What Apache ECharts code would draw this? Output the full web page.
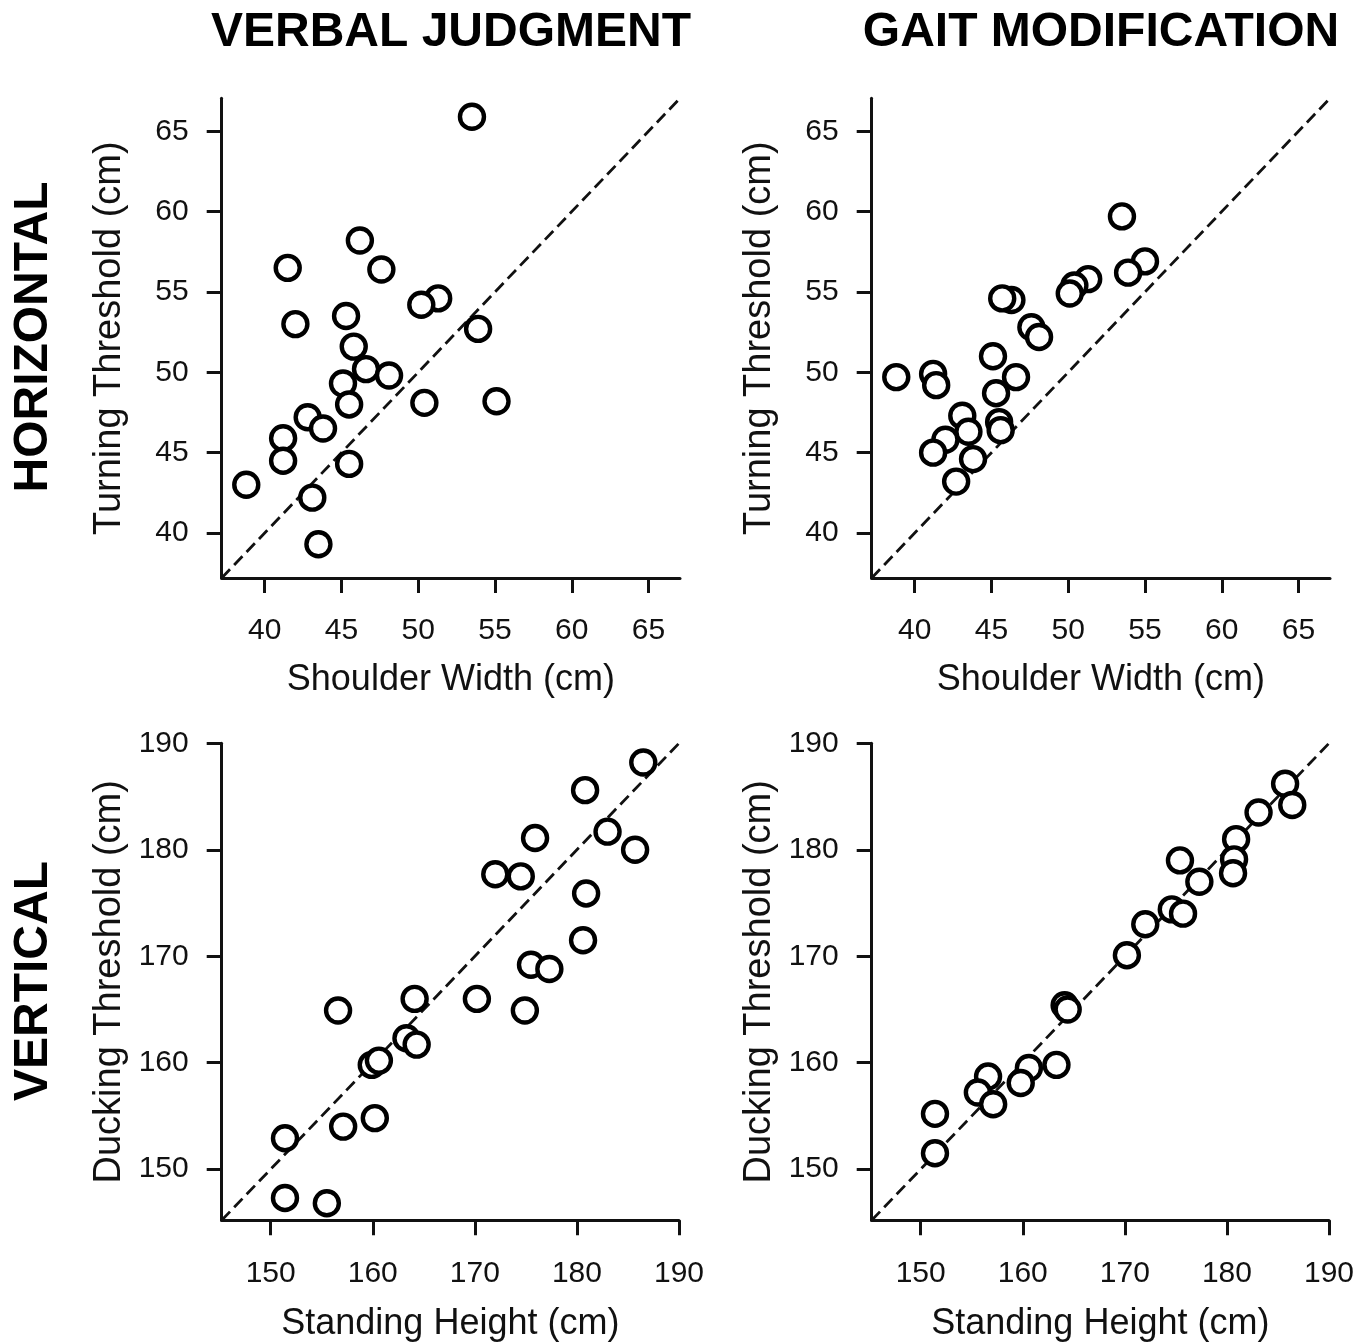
<!DOCTYPE html>
<html>
<head>
<meta charset="utf-8">
<script src="https://cdn.jsdelivr.net/npm/echarts@6/dist/echarts.min.js"></script>
<style>
  html, body { margin: 0; padding: 0; background: #fff; }
  #chart { width: 1369px; height: 1344px; }
</style>
</head>
<body>
<div id="chart"></div>
<script>
// ---------- data ----------
const columnTitles = ['VERBAL JUDGMENT', 'GAIT MODIFICATION'];
const rowTitles = ['HORIZONTAL', 'VERTICAL'];
const xNames = ['Shoulder Width (cm)', 'Standing Height (cm)'];
const yNames = ['Turning Threshold (cm)', 'Ducking Threshold (cm)'];

const hTicks = [40, 45, 50, 55, 60, 65];
const vTicks = [150, 160, 170, 180, 190];
const hRange = [37.2, 67.05];
const vRange = [145.2, 190];

// Horizontal – Verbal judgment
const vjShoulder = [53.5, 46.2, 41.5, 47.6, 51.3, 50.2, 42.0, 45.3, 53.9, 45.8, 46.6, 48.1, 45.1, 45.5, 50.4, 55.1, 42.8, 43.8, 41.2, 41.2, 45.5, 38.8, 43.1, 43.5];
const vjTurning  = [65.9, 58.2, 56.5, 56.4, 54.6, 54.2, 53.0, 53.5, 52.7, 51.6, 50.2, 49.8, 49.3, 48.0, 48.1, 48.2, 47.2, 46.5, 45.9, 44.5, 44.3, 43.0, 42.2, 39.3];

// Horizontal – Gait modification
const gmShoulder = [53.5, 55.0, 53.9, 51.3, 50.4, 50.1, 46.3, 45.7, 47.6, 48.1, 45.1, 38.8, 41.2, 41.4, 46.6, 45.3, 43.1, 43.5, 45.5, 45.6, 42.0, 41.2, 43.8, 42.7];
const gmTurning  = [59.7, 56.9, 56.2, 55.8, 55.4, 54.9, 54.5, 54.6, 52.8, 52.2, 51.0, 49.7, 49.9, 49.2, 49.7, 48.7, 47.3, 46.3, 46.9, 46.4, 45.8, 45.0, 44.6, 43.2];

// Vertical – Verbal judgment
const vjHeight  = [186.5, 180.8, 183.0, 175.9, 185.7, 172.0, 174.5, 180.9, 180.6, 175.5, 177.3, 170.2, 164.1, 156.6, 174.9, 163.3, 164.3, 159.9, 160.6, 157.1, 160.2, 151.4, 151.4, 155.5];
const vjDucking = [188.2, 185.6, 181.7, 181.1, 180.0, 177.7, 177.5, 175.9, 171.5, 169.2, 168.8, 166.0, 166.0, 164.9, 164.9, 162.3, 161.7, 159.8, 160.2, 154.0, 154.8, 152.9, 147.3, 146.8];

// Vertical – Gait modification
const gmHeight  = [185.7, 186.4, 183.1, 180.9, 180.7, 180.6, 175.4, 177.3, 174.6, 175.7, 172.0, 170.2, 164.1, 164.4, 163.3, 160.6, 159.8, 156.6, 155.6, 157.1, 151.4, 151.4];
const gmDucking = [186.2, 184.2, 183.5, 181.0, 179.1, 177.8, 179.0, 177.0, 174.4, 174.0, 173.0, 170.1, 165.4, 165.0, 159.8, 159.5, 158.1, 158.7, 157.2, 156.1, 155.2, 151.5];

// ---------- layout / style ----------
const panels = [
  { x: vjShoulder, y: vjTurning, range: hRange, ticks: hTicks, xName: xNames[0], yName: yNames[0], left: 221.7, top: 98.3, width: 458.3, height: 479.7 },
  { x: gmShoulder, y: gmTurning, range: hRange, ticks: hTicks, xName: xNames[0], yName: yNames[0], left: 871.7, top: 98.3, width: 458.3, height: 479.7 },
  { x: vjHeight, y: vjDucking, range: vRange, ticks: vTicks, xName: xNames[1], yName: yNames[1], left: 221.7, top: 743.3, width: 457.3, height: 477.0 },
  { x: gmHeight, y: gmDucking, range: vRange, ticks: vTicks, xName: xNames[1], yName: yNames[1], left: 871.7, top: 743.3, width: 457.3, height: 477.0 }
];

const AX_FONT = 'Liberation Sans';
const axisCommon = (p, name, isX, bottomRow) => ({
  type: 'value',
  min: p.range[0],
  max: p.range[1],
  name: name,
  nameLocation: 'middle',
  nameGap: isX ? (bottomRow ? 86 : 84) : 93,
  nameTextStyle: { fontFamily: AX_FONT, fontSize: isX ? 36 : 38, color: '#111' },
  axisLine: { show: true, onZero: false, lineStyle: { color: '#111', width: 3 } },
  axisTick: { show: true, length: 15, lineStyle: { color: '#111', width: 3 }, customValues: p.ticks },
  axisLabel: { show: true, fontFamily: AX_FONT, fontSize: 30, color: '#111', margin: isX ? 38 : 33, customValues: p.ticks },
  splitLine: { show: false }
});

const grids = [], xAxes = [], yAxes = [], series = [];
panels.forEach((p, i) => {
  const bottomRow = i >= 2;
  grids.push({ left: p.left, top: p.top, width: p.width, height: p.height, containLabel: false });
  const xa = axisCommon(p, p.xName, true, bottomRow); xa.gridIndex = i; xAxes.push(xa);
  const ya = axisCommon(p, p.yName, false, bottomRow); ya.gridIndex = i; yAxes.push(ya);
  series.push({
    type: 'line', xAxisIndex: i, yAxisIndex: i, z: 1,
    data: [[p.range[0], p.range[0]], [p.range[1], p.range[1]]],
    showSymbol: false, silent: true,
    lineStyle: { color: '#111', width: 2.8, type: [12, 6] }
  });
  series.push({
    type: 'scatter', xAxisIndex: i, yAxisIndex: i, z: 3,
    data: p.x.map((v, k) => [v, p.y[k]]),
    symbol: 'circle', symbolSize: 24,
    itemStyle: { color: '#fff', borderColor: '#000', borderWidth: 4.4, opacity: 1 },
    silent: true
  });
});

const TITLE_FONT = 'bold 48px "Liberation Sans"';
const graphics = [
  { type: 'text', x: 451, y: 33, style: { text: columnTitles[0], font: TITLE_FONT, fill: '#000', textAlign: 'center', textVerticalAlign: 'middle' } },
  { type: 'text', x: 1101, y: 33, style: { text: columnTitles[1], font: TITLE_FONT, fill: '#000', textAlign: 'center', textVerticalAlign: 'middle' } },
  { type: 'text', x: 34, y: 337, rotation: Math.PI / 2, style: { text: rowTitles[0], font: TITLE_FONT, fill: '#000', textAlign: 'center', textVerticalAlign: 'middle' } },
  { type: 'text', x: 34, y: 981, rotation: Math.PI / 2, style: { text: rowTitles[1], font: TITLE_FONT, fill: '#000', textAlign: 'center', textVerticalAlign: 'middle' } }
];

const chart = echarts.init(document.getElementById('chart'), null, { renderer: 'canvas' });
chart.setOption({
  animation: false,
  backgroundColor: '#fff',
  grid: grids,
  xAxis: xAxes,
  yAxis: yAxes,
  series: series,
  graphic: graphics
});
</script>
</body>
</html>
